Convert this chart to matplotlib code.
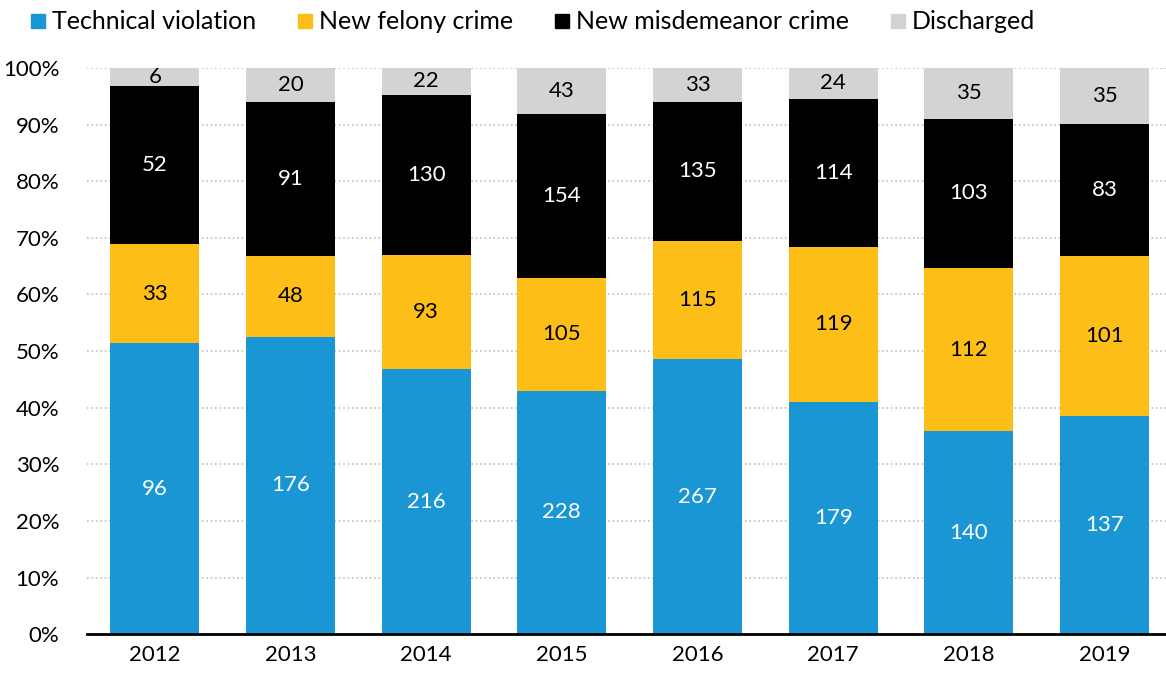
import numpy as np
import matplotlib.pyplot as plt
from matplotlib.lines import Line2D
from matplotlib.ticker import PercentFormatter

plt.rcParams['font.family'] = ['Lato', 'DejaVu Sans']

years = ['2012', '2013', '2014', '2015', '2016', '2017', '2018', '2019']
technical = [96, 176, 216, 228, 267, 179, 140, 137]
felony = [33, 48, 93, 105, 115, 119, 112, 101]
misdemeanor = [52, 91, 130, 154, 135, 114, 103, 83]
discharged = [6, 20, 22, 43, 33, 24, 35, 35]

series = [
    ('Technical violation', technical, '#1a96d4', 'white'),
    ('New felony crime', felony, '#fdbf17', 'black'),
    ('New misdemeanor crime', misdemeanor, '#000000', 'white'),
    ('Discharged', discharged, '#d3d3d3', 'black'),
]

totals = np.sum([np.array(s[1]) for s in series], axis=0)

fig = plt.figure(figsize=(11.66, 6.79), dpi=100)
ax = fig.add_axes([0.0746, 0.066, 0.925, 0.834])

x = np.arange(len(years))
bottom = np.zeros(len(years))
handles = []
for name, vals, color, tcolor in series:
    share = np.array(vals) / totals * 100
    ax.bar(x, share, width=0.656, bottom=bottom, color=color, zorder=2)
    for xi, b, s, v in zip(x, bottom, share, vals):
        ax.text(xi, b + s / 2, str(v), ha='center', va='center',
                color=tcolor, fontsize=16, zorder=3)
    bottom += share
    handles.append(Line2D([], [], marker='s', linestyle='none', color=color,
                          markersize=9.5, label=name))

ax.set_ylim(0, 100)
ax.set_xlim(-0.5, 7.45)
ax.set_yticks(np.arange(0, 101, 10))
ax.yaxis.set_major_formatter(PercentFormatter(decimals=0))
ax.set_xticks(x)
ax.set_xticklabels(years)
ax.tick_params(axis='both', length=0, labelsize=16, pad=8)
ax.tick_params(axis='y', pad=20)
ax.grid(axis='y', linestyle=':', color='#c0c0c0', linewidth=1.2, zorder=0)
for side in ['top', 'right', 'left']:
    ax.spines[side].set_visible(False)
ax.spines['bottom'].set_linewidth(2)
ax.spines['bottom'].set_zorder(4)

fig.legend(handles=handles, loc='upper left', bbox_to_anchor=(0.003, 1.018),
           ncol=4, frameon=False, fontsize=18, handletextpad=0.05,
           columnspacing=1.46, handlelength=1.0)

fig.savefig('out.png', dpi=100)
